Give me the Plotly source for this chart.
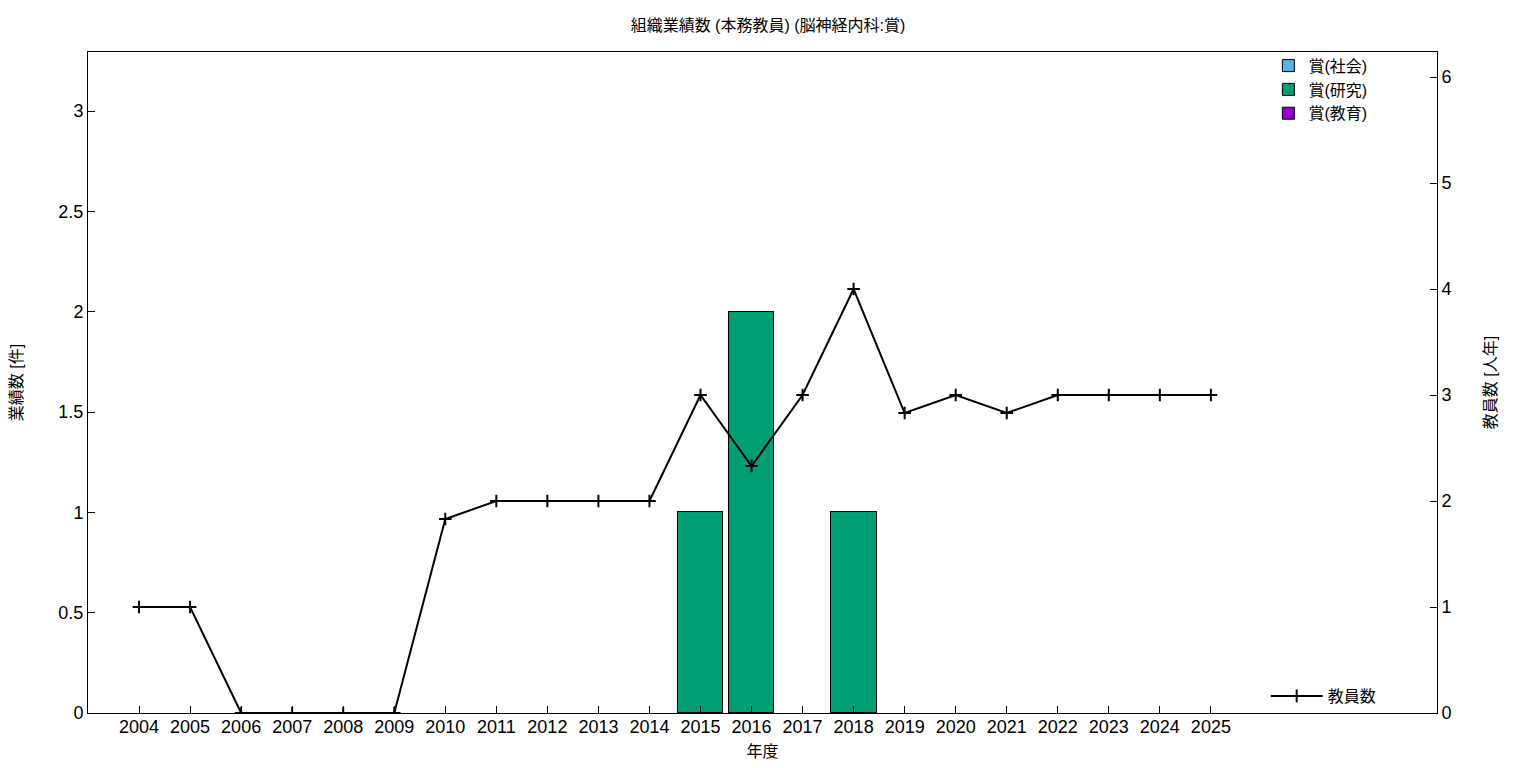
import plotly.graph_objects as go

years = list(range(2004, 2026))
award_social = [0]*22
award_research = [0, 0, 0, 0, 0, 0, 0, 0, 0, 0, 0, 1, 2, 0, 1, 0, 0, 0, 0, 0, 0, 0]
award_education = [0]*22
staff = [1, 1, 0, 0, 0, 0, 1.83, 2, 2, 2, 2, 3, 2.33, 3, 4, 2.83, 3, 2.83, 3, 3, 3, 3]

title = "組織業績数 (本務教員) (脳神経内科:賞)"
font = "Liberation Sans, Noto Sans CJK JP"


def nz(vals):
    return [v if v else None for v in vals]


fig = go.Figure()
for name, vals, color in [("賞(社会)", award_social, "#56B4E9"),
                          ("賞(研究)", award_research, "#009E73"),
                          ("賞(教育)", award_education, "#9400D3")]:
    fig.add_trace(go.Bar(x=years, y=nz(vals), name=name, width=0.9,
                         marker=dict(color=color, line=dict(color="black", width=1)),
                         legend="legend"))

fig.add_trace(go.Scatter(x=years, y=staff, name="教員数", yaxis="y2", mode="lines+markers",
                         line=dict(color="black", width=2),
                         marker=dict(symbol="cross-thin", size=9, line=dict(color="black", width=2)),
                         legend="legend2"))

axis_common = dict(ticks="inside", ticklen=7, tickcolor="black", showline=True,
                   linecolor="black", showgrid=False, zeroline=False,
                   tickfont=dict(size=18), automargin=False)

fig.update_layout(
    width=1520, height=752,
    barmode="stack", bargap=0,
    plot_bgcolor="white", paper_bgcolor="white",
    font=dict(family=font, size=16, color="black"),
    margin=dict(l=80, r=91, t=44, b=47),
    title=dict(text=title, x=0.5, xanchor="center", y=0.977, yanchor="middle",
               font=dict(size=16)),
    xaxis=dict(range=[2003, 2029.43], tickvals=years, ticktext=[str(y) for y in years],
               mirror=True, title=dict(text="年度", font=dict(size=16), standoff=14),
               ticklabelstandoff=-3, **axis_common),
    yaxis=dict(range=[0, 3.294], tickvals=[0, 0.5, 1, 1.5, 2, 2.5, 3],
               ticktext=["0", "0.5", "1", "1.5", "2", "2.5", "3"], mirror=True,
               title=dict(text="業績数 [件]", font=dict(size=16), standoff=32),
               **axis_common),
    yaxis2=dict(range=[0, 6.236], overlaying="y", side="right", tickvals=[0, 1, 2, 3, 4, 5, 6],
                title=dict(text="教員数 [人年]", font=dict(size=16), standoff=34),
                **axis_common),
    legend=dict(x=0.875, y=1.005, xanchor="left", yanchor="top", bgcolor="rgba(0,0,0,0)",
                font=dict(size=16), tracegroupgap=0, traceorder="normal"),
    legend2=dict(x=0.873, y=0.0, xanchor="left", yanchor="bottom", bgcolor="rgba(0,0,0,0)",
                 font=dict(size=16), itemwidth=52),
)

fig.write_html("out.html")
